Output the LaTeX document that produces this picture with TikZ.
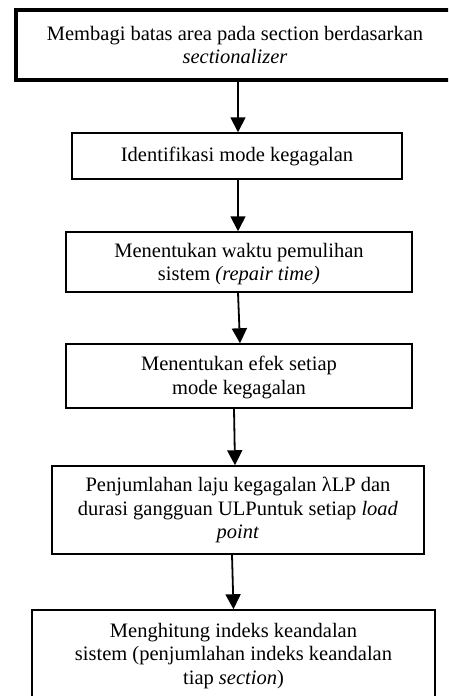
\documentclass[tikz,border=0pt]{standalone}
\usepackage{fontspec}
\setmainfont{Liberation Serif}
\usetikzlibrary{arrows.meta}
\begin{document}
\begin{tikzpicture}[x=1pt, y=-1pt]
	    \tikzset{>={Triangle[width=15pt,length=15pt]}}
	    \tikzset{kotak/.style={draw, line width=1.5pt, align=center, inner sep=0pt,
	        font=\fontsize{20.5}{23.5}\selectfont}}
	    \tikzset{panah/.style={->, line width=1.8pt}}
	    \useasboundingbox (0,0) rectangle (448,696);
	    \clip (0,0) rectangle (448,696);
	    \node[kotak, line width=4pt, minimum width=438pt, minimum height=70pt] (bagi) at (235,45)
	        {Membagi batas area pada section berdasarkan\\\textit{sectionalizer}};
	    \node[kotak, minimum width=330pt, minimum height=46pt] (identifikasi) at (237,156)
	        {Identifikasi mode kegagalan};
	    \node[kotak, minimum width=346pt, minimum height=60pt, text depth=-4pt] (waktu) at (239,262)
	        {Menentukan waktu pemulihan\\sistem \textit{(repair time)}};
	    \node[kotak, minimum width=346pt, minimum height=64pt, text depth=1pt] (efek) at (239,376)
	        {Menentukan efek setiap\\mode kegagalan};
	    \node[kotak, minimum width=372pt, minimum height=88pt] (jumlah) at (238,510)
	        {Penjumlahan laju kegagalan λLP dan\\durasi gangguan ULPuntuk setiap \textit{load}\\\textit{point}};
	    \node[kotak, minimum width=403pt, minimum height=92pt] (indeks) at (233.5,656)
	        {Menghitung indeks keandalan\\sistem (penjumlahan indeks keandalan\\tiap \textit{section})};
	    \draw[panah] ([xshift=3pt]bagi.south) -- ([xshift=1pt]identifikasi.north);
	    \draw[panah] ([xshift=1pt]identifikasi.south) -- ([xshift=-1pt]waktu.north);
	    \draw[panah] ([xshift=-1pt]waktu.south) -- ([xshift=1pt]efek.north);
	    \draw[panah] ([xshift=-5pt]efek.south) -- ([xshift=-3pt]jumlah.north);
	    \draw[panah] ([xshift=-6pt]jumlah.south) -- ([xshift=0pt]indeks.north);
\end{tikzpicture}
\end{document}
